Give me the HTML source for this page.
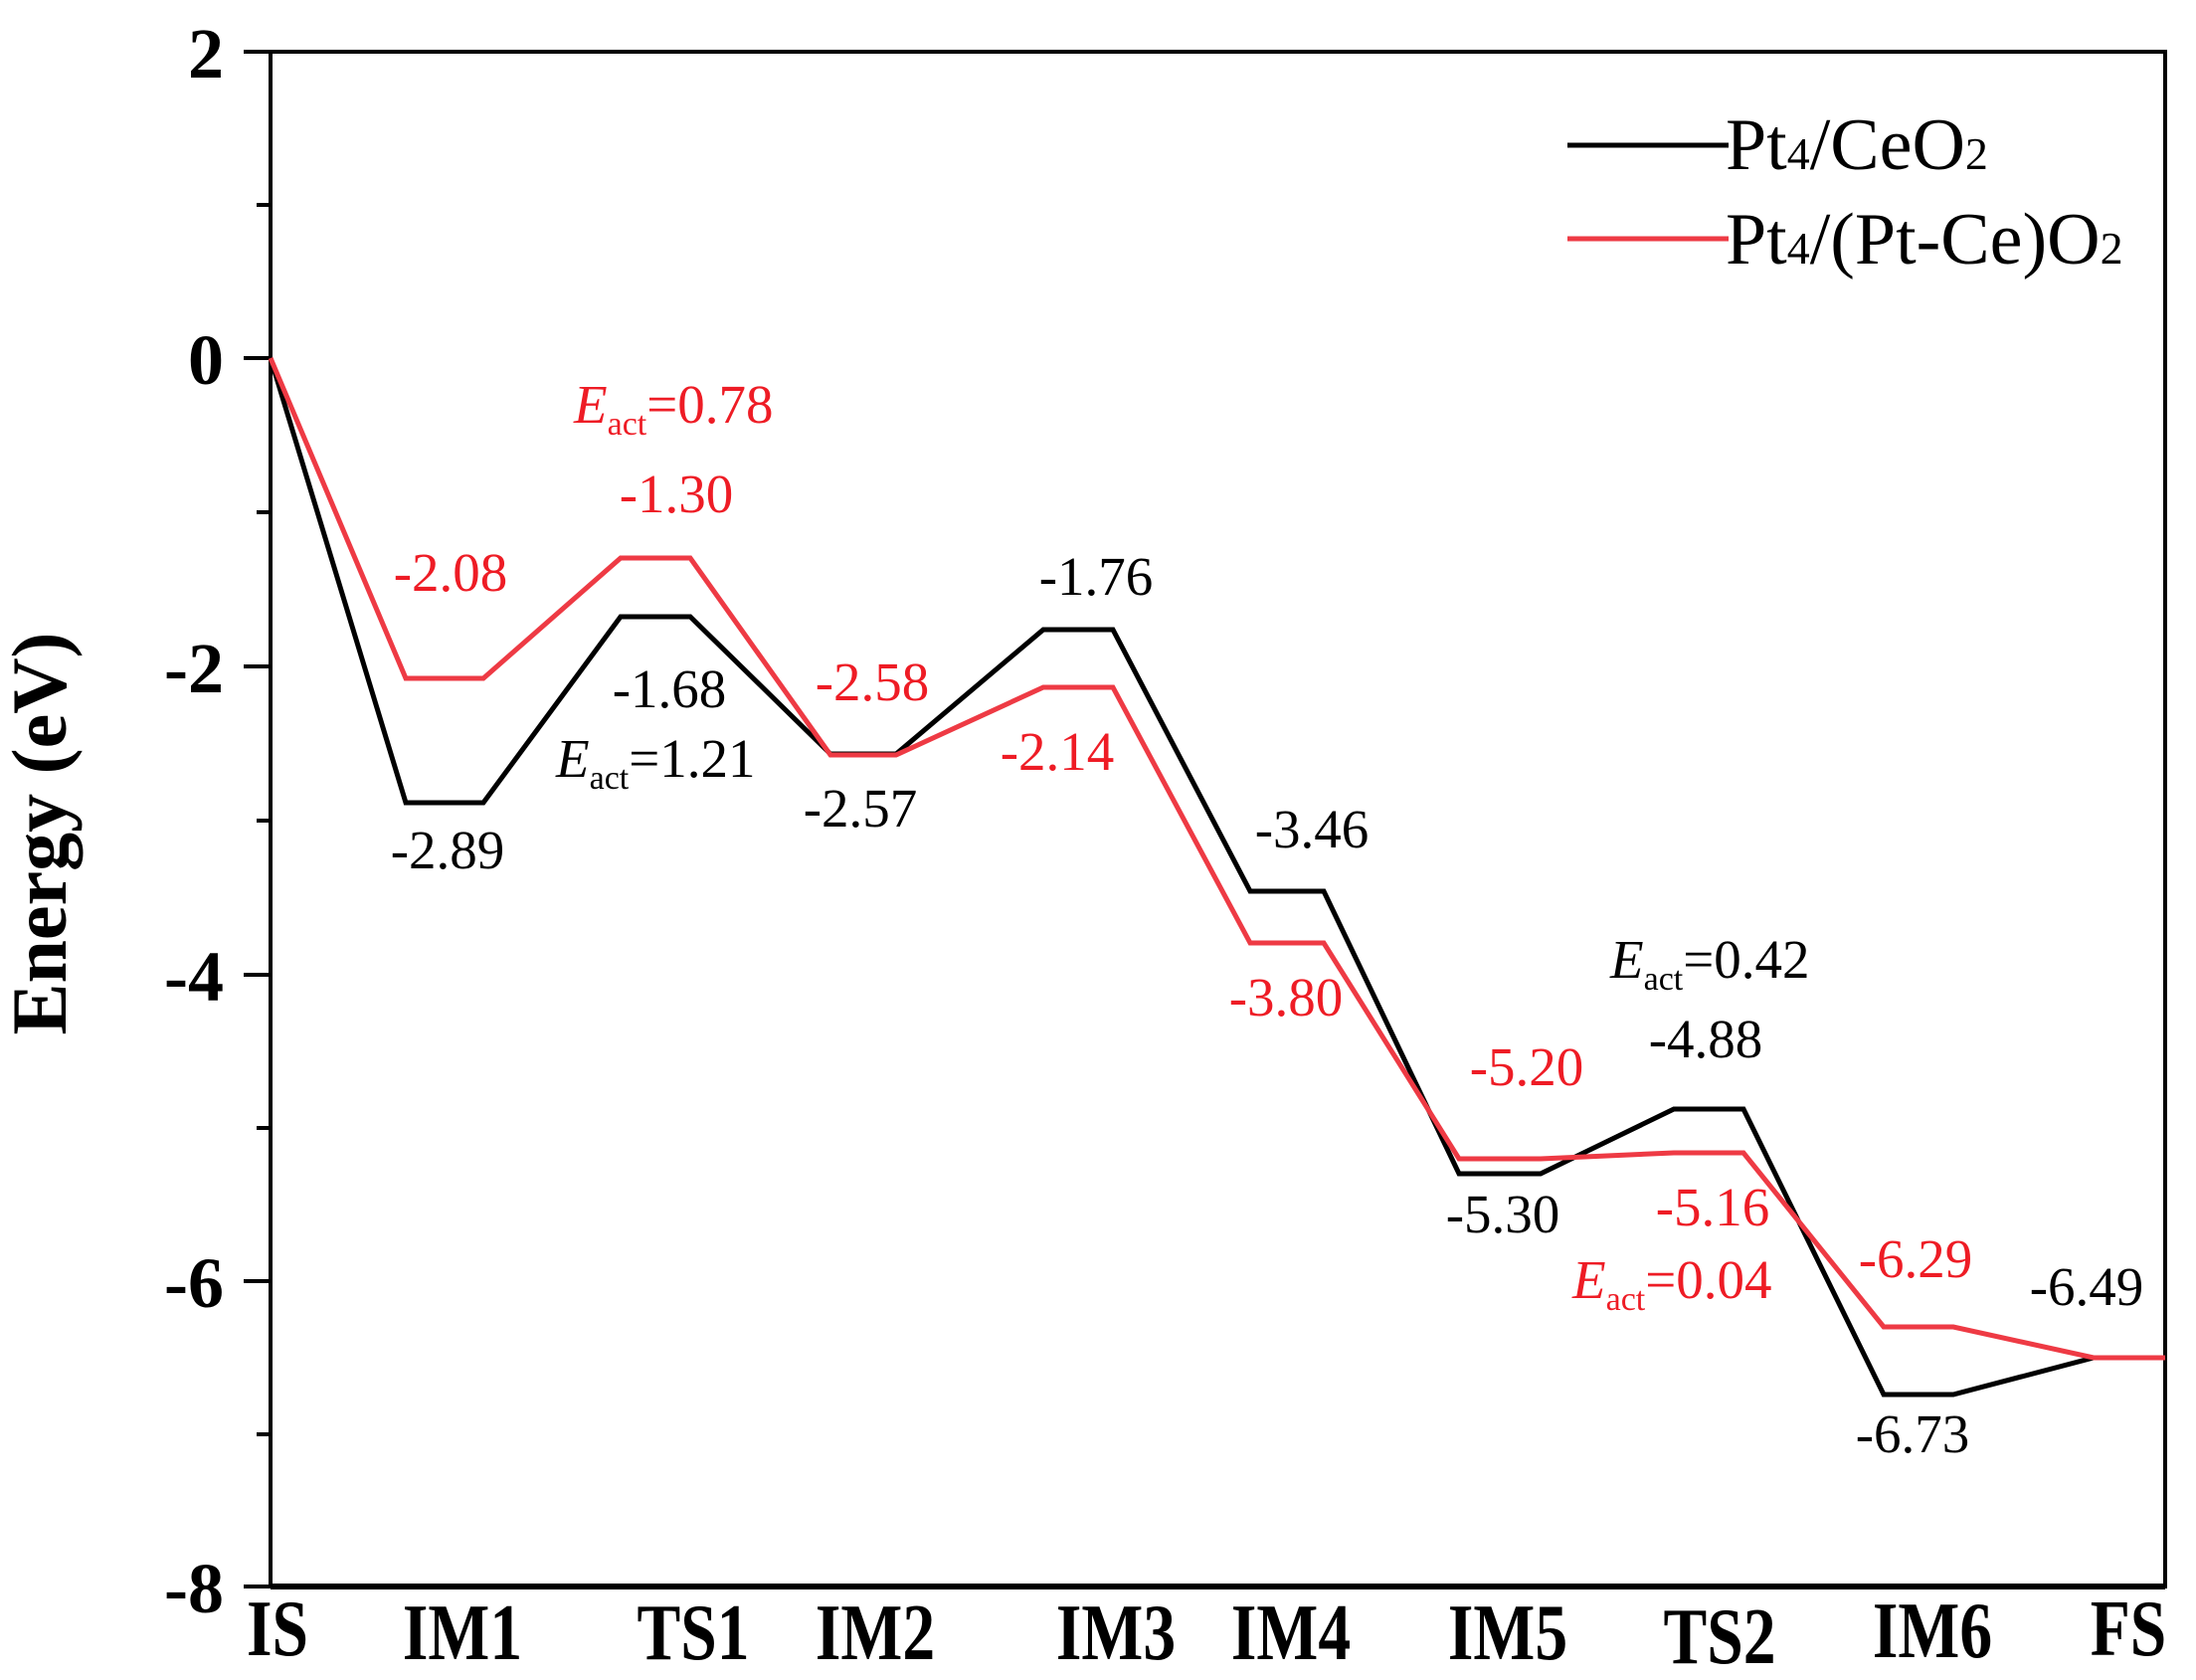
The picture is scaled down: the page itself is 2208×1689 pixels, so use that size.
<!DOCTYPE html>
<html><head><meta charset="utf-8"><style>
html,body{margin:0;padding:0;background:#fff;}
svg{display:block;}
text{font-family:"Liberation Serif",serif;}
.b{fill:#000}.r{fill:#ee1c25}
</style></head><body>
<svg width="2208" height="1689" viewBox="0 0 2208 1689" xmlns="http://www.w3.org/2000/svg" font-family="Liberation Serif, serif">
<rect width="2208" height="1689" fill="#fff"/>
<rect x="272" y="52" width="1905" height="1543" fill="none" stroke="#000" stroke-width="4"/>
<line x1="272" y1="1595" x2="2177" y2="1595" stroke="#000" stroke-width="6"/>
<g stroke="#000" stroke-width="4">
<line x1="245" y1="52" x2="272" y2="52"/>
<line x1="258" y1="206" x2="272" y2="206"/>
<line x1="245" y1="360" x2="272" y2="360"/>
<line x1="258" y1="515" x2="272" y2="515"/>
<line x1="245" y1="670" x2="272" y2="670"/>
<line x1="258" y1="825" x2="272" y2="825"/>
<line x1="245" y1="980" x2="272" y2="980"/>
<line x1="258" y1="1134" x2="272" y2="1134"/>
<line x1="245" y1="1288" x2="272" y2="1288"/>
<line x1="258" y1="1442" x2="272" y2="1442"/>
<line x1="245" y1="1595" x2="272" y2="1595"/>
</g>
<g font-size="72" font-weight="bold" text-anchor="end">
<text x="225" y="78">2</text>
<text x="225" y="386">0</text>
<text x="225" y="696">-2</text>
<text x="225" y="1006">-4</text>
<text x="225" y="1314">-6</text>
<text x="225" y="1621">-8</text>
</g>
<text transform="translate(66,838) rotate(-90)" font-size="78" font-weight="bold" text-anchor="middle">Energy (eV)</text>
<g font-size="80" font-weight="bold" text-anchor="middle">
<text transform="translate(279,1664) scale(0.82,1)">IS</text>
<text transform="translate(465,1668) scale(0.82,1)">IM1</text>
<text transform="translate(697,1668) scale(0.82,1)">TS1</text>
<text transform="translate(880,1668) scale(0.82,1)">IM2</text>
<text transform="translate(1122,1668) scale(0.82,1)">IM3</text>
<text transform="translate(1298,1668) scale(0.82,1)">IM4</text>
<text transform="translate(1516,1668) scale(0.82,1)">IM5</text>
<text transform="translate(1729,1672) scale(0.82,1)">TS2</text>
<text transform="translate(1943,1666) scale(0.82,1)">IM6</text>
<text transform="translate(2140,1664) scale(0.82,1)">FS</text>
</g>
<polyline fill="none" stroke="#000" stroke-width="5" points="272,360 408,807 486,807 624,620 694,620 835,758 901,758 1049,633 1119,633 1257,896 1331,896 1467,1180 1549,1180 1683,1115 1753,1115 1894,1402 1964,1402 2105,1365 2177,1365"/>
<polyline fill="none" stroke="#ee3a44" stroke-width="5" points="272,360 408,682 486,682 624,561 694,561 835,759 901,759 1049,691 1119,691 1257,948 1331,948 1467,1165 1549,1165 1683,1159 1753,1159 1894,1334 1964,1334 2105,1365 2177,1365"/>
<line x1="1576" y1="146" x2="1738" y2="146" stroke="#000" stroke-width="5"/>
<line x1="1576" y1="240" x2="1738" y2="240" stroke="#ee3a44" stroke-width="5"/>
<text x="1735" y="170" font-size="74">Pt<tspan font-size="46">4</tspan>/CeO<tspan font-size="46">2</tspan></text>
<text x="1735" y="265" font-size="74">Pt<tspan font-size="46">4</tspan>/(Pt-Ce)O<tspan font-size="46">2</tspan></text>
<g font-size="55" text-anchor="middle">
<text class="r" x="453" y="594">-2.08</text>
<text class="r" x="680" y="515">-1.30</text>
<text class="b" x="673" y="711">-1.68</text>
<text class="b" x="450" y="873">-2.89</text>
<text class="r" x="877" y="704">-2.58</text>
<text class="b" x="865" y="831">-2.57</text>
<text class="b" x="1102" y="598">-1.76</text>
<text class="r" x="1063" y="774">-2.14</text>
<text class="b" x="1319" y="852">-3.46</text>
<text class="r" x="1293" y="1021">-3.80</text>
<text class="r" x="1535" y="1091">-5.20</text>
<text class="b" x="1511" y="1239">-5.30</text>
<text class="b" x="1715" y="1063">-4.88</text>
<text class="r" x="1722" y="1232">-5.16</text>
<text class="r" x="1926" y="1284">-6.29</text>
<text class="b" x="2098" y="1312">-6.49</text>
<text class="b" x="1923" y="1460">-6.73</text>
</g>
<g font-size="55">
<text class="r" x="577" y="425"><tspan font-style="italic">E</tspan><tspan font-size="34" dy="12">act</tspan><tspan dy="-12">=0.78</tspan></text>
<text class="b" x="559" y="781"><tspan font-style="italic">E</tspan><tspan font-size="34" dy="12">act</tspan><tspan dy="-12">=1.21</tspan></text>
<text class="b" x="1619" y="983"><tspan font-style="italic">E</tspan><tspan font-size="34" dy="12">act</tspan><tspan dy="-12">=0.42</tspan></text>
<text class="r" x="1581" y="1305"><tspan font-style="italic">E</tspan><tspan font-size="34" dy="12">act</tspan><tspan dy="-12">=0.04</tspan></text>
</g>
</svg>
</body></html>
